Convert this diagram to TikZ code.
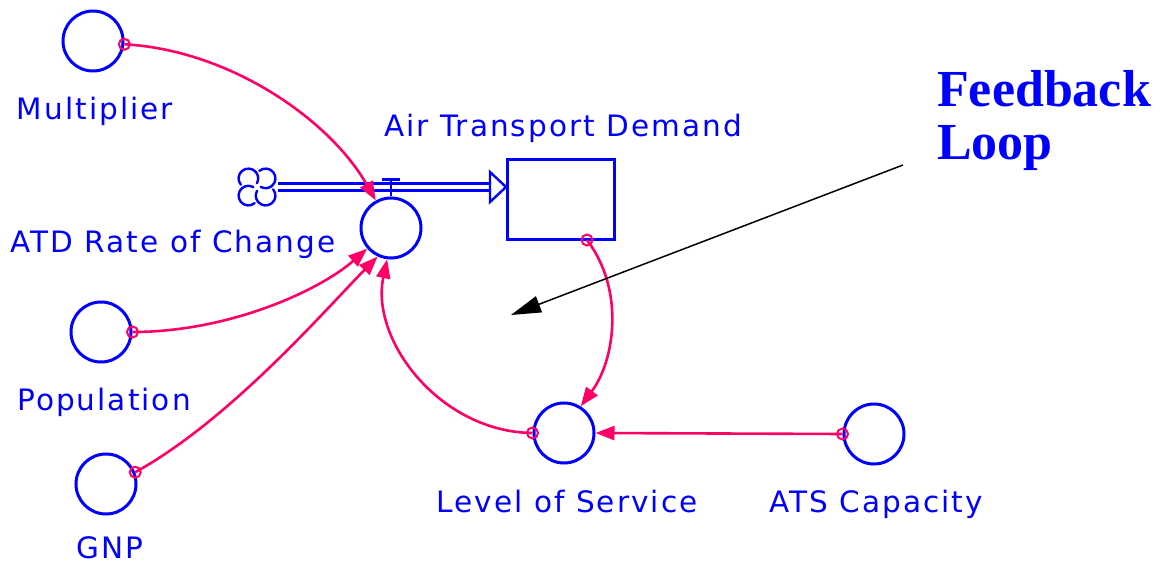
\documentclass[tikz,border=0pt]{standalone}
\usepackage{fontspec}
\setmainfont{DejaVu Sans}[LetterSpace=7]
\newfontfamily\timesfont{Liberation Serif}
\usetikzlibrary{arrows.meta,calc}
\definecolor{vblue}{RGB}{0,0,255}
\definecolor{vpink}{RGB}{255,0,102}
\tikzset{
  aux/.style={circle, draw=vblue, line width=3pt, minimum size=60pt, inner sep=0pt},
  lbl/.style={text=vblue, font=\fontsize{29.5}{34}\selectfont, anchor=base, inner sep=0pt},
  link/.style={draw=vpink, line width=2.6pt, -{Triangle[length=19pt,width=14pt]}},
  orig/.style={circle, draw=vpink, line width=2pt, minimum size=11pt, inner sep=0pt},
  pipe/.style={draw=vblue, line width=2.4pt},
  lobe/.style={draw=vblue, line width=2.4pt, line cap=round},
  fbtext/.style={text=vblue, font=\timesfont\bfseries\fontsize{52}{53}\selectfont, anchor=base west, inner sep=0pt}
}
\begin{document}
\begin{tikzpicture}[x=1pt,y=-1pt]
\useasboundingbox (0,0) rectangle (1160,564);
% stock
\node[draw=vblue, line width=3pt, minimum width=107pt, minimum height=80pt, inner sep=0pt] (stock) at (561,200) {};
% auxiliaries
\node[aux] (mult) at (93,41) {};
\node[aux] (atd) at (391,228) {};
\node[aux] (pop) at (101,332) {};
\node[aux] (gnp) at (106,484) {};
\node[aux] (los) at (564,433) {};
\node[aux] (ats) at (874,434) {};
% cloud
\coordinate (cloud) at (257,187);
\foreach \t in {45,135,225,315}
  \draw[lobe] ($(cloud)+(\t:12.2)$) ++(\t-85:9.8) arc[start angle=\t-85, end angle=\t+165, radius=9.8];
% flow pipe
\coordinate (pin) at (stock.west |- cloud);
\draw[pipe] ($(cloud)+(21,-3.5)$) -- ($(pin)+(-16,-3.5)$);
\draw[pipe] ($(cloud)+(21,3.5)$) -- ($(pin)+(-16,3.5)$);
\draw[pipe, fill=white, line join=miter] ($(pin)+(-16,-15)$) -- (pin) -- ($(pin)+(-16,15)$) -- cycle;
% valve
\coordinate (vtop) at ($(atd.north)+(0,-17)$);
\draw[pipe] (atd.north) -- (vtop);
\draw[pipe] ($(vtop)+(-9,0)$) -- ($(vtop)+(9,0)$);
% labels
\node[lbl] (lmult) at (95,120) {Multiplier};
\node[lbl] (latd) at (173,253) {ATD Rate of Change};
\node[lbl] (lstock) at (563,137) {Air Transport Demand};
\node[lbl] (lpop) at (104,410) {Population};
\node[lbl] (lgnp) at (110,558) {GNP};
\node[lbl] (llos) at (567,512) {Level of Service};
\node[lbl] (lats) at (876,512) {ATS Capacity};
% links
\coordinate (sout) at (587,240);
\draw[link] (mult.-6) .. controls (230,50) and (330,120) .. (atd.119);
\draw[link] (pop.0) .. controls (230,332) and (320,290) .. (atd.221);
\draw[link] (gnp.22) .. controls (230,420) and (325,310) .. (atd.245);
\draw[link] (los.180) .. controls (440,432) and (370,340) .. (atd.263);
\draw[link] (sout) .. controls (625,290) and (615,360) .. (los.58);
\draw[link] (ats.180) -- (los.0);
\node[orig] (o1) at (mult.-6) {};
\node[orig] (o2) at (pop.0) {};
\node[orig] (o3) at (gnp.22) {};
\node[orig] (o4) at (los.180) {};
\node[orig] (o5) at (sout) {};
\node[orig] (o6) at (ats.180) {};
% feedback loop annotation
\node[fbtext] (fb1) at (937,107) {Feedback};
\node[fbtext] (fb2) at (937,160) {Loop};
\coordinate (fbs) at (903,165);
\coordinate (fbe) at (511,315);
\draw[black, line width=1.5pt, -{Triangle[length=30pt,width=17pt]}] (fbs) -- (fbe);
\end{tikzpicture}
\end{document}
